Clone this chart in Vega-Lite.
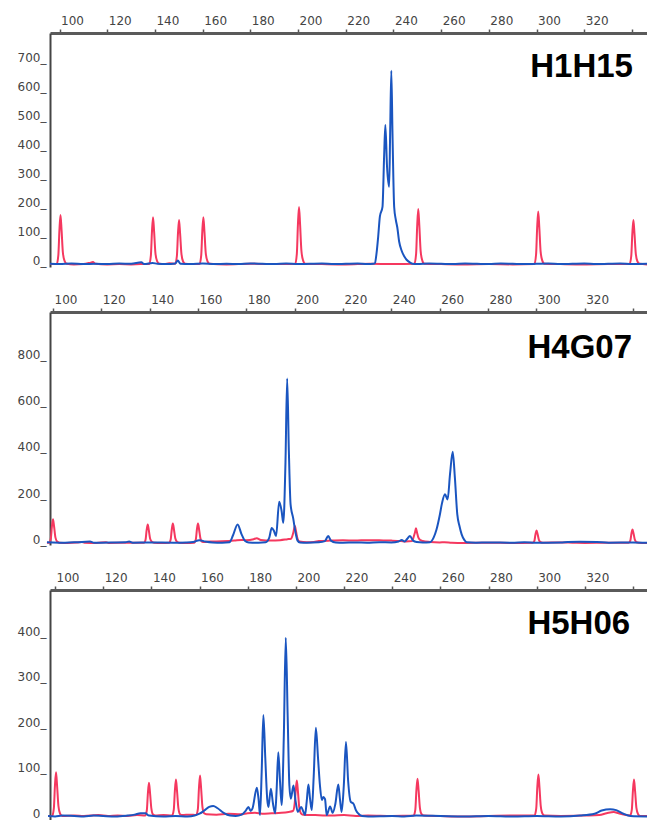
{
"$schema": "https://vega.github.io/schema/vega-lite/v6.json",
"background": "white",
"padding": {"left": 0, "top": 14, "right": 0, "bottom": 0},
"config": {"view": {"stroke": null}, "axis": {"grid": false, "title": null, "labelFont": "DejaVu Sans", "labelColor": "#444", "labelOverlap": false, "labelFlush": false},
  "axisX": {"orient": "top", "values": [100,120,140,160,180,200,220,240,260,280,300,320,340], "labelExpr": "datum.value == 340 ? '' : datum.label", "tickSize": 4, "tickWidth": 1.5, "tickColor": "#555", "domainColor": "#5a5a5a", "domainWidth": 3, "labelAlign": "left", "labelBaseline": "bottom", "labelPadding": 2, "labelFontSize": 12, "labelOffset": 1},
  "axisY": {"labelExpr": "datum.label + '_'", "ticks": false, "labelPadding": 4, "domainColor": "#444", "domainWidth": 2, "labelBaseline": "alphabetic", "labelFontSize": 12, "minExtent": 50, "maxExtent": 50},
  "line": {"strokeWidth": 2, "interpolate": "monotone", "clip": true}},
"columns": 1,
"spacing": 24,
"datasets": {
"p1red": [{"bp":96,"rfu":3},{"bp":98.8,"rfu":3},{"bp":99.5,"rfu":34},{"bp":99.95,"rfu":120},{"bp":100.4,"rfu":172},{"bp":100.85,"rfu":120},{"bp":101.4,"rfu":43},{"bp":102.1,"rfu":14},{"bp":103,"rfu":4},{"bp":106,"rfu":2},{"bp":110,"rfu":3},{"bp":113,"rfu":8},{"bp":114,"rfu":10},{"bp":115,"rfu":4},{"bp":120,"rfu":2},{"bp":125,"rfu":3},{"bp":130,"rfu":2},{"bp":134,"rfu":3},{"bp":137.6,"rfu":3},{"bp":138.3,"rfu":33},{"bp":138.75,"rfu":115},{"bp":139.2,"rfu":165},{"bp":139.65,"rfu":115},{"bp":140.2,"rfu":41},{"bp":140.9,"rfu":13},{"bp":141.8,"rfu":4},{"bp":144,"rfu":3},{"bp":146,"rfu":6},{"bp":148.5,"rfu":4},{"bp":149.2,"rfu":31},{"bp":149.65,"rfu":108},{"bp":150.1,"rfu":155},{"bp":150.55,"rfu":108},{"bp":151.1,"rfu":39},{"bp":151.8,"rfu":12},{"bp":152.7,"rfu":4},{"bp":155,"rfu":3},{"bp":158.7,"rfu":3},{"bp":159.4,"rfu":33},{"bp":159.85,"rfu":115},{"bp":160.3,"rfu":165},{"bp":160.75,"rfu":115},{"bp":161.3,"rfu":41},{"bp":162,"rfu":13},{"bp":162.9,"rfu":4},{"bp":170,"rfu":2},{"bp":180,"rfu":4},{"bp":190,"rfu":3},{"bp":198.8,"rfu":3},{"bp":199.5,"rfu":40},{"bp":199.95,"rfu":140},{"bp":200.4,"rfu":200},{"bp":200.85,"rfu":140},{"bp":201.4,"rfu":50},{"bp":202.1,"rfu":16},{"bp":203,"rfu":4},{"bp":210,"rfu":3},{"bp":220,"rfu":2},{"bp":230,"rfu":4},{"bp":240,"rfu":3},{"bp":248.8,"rfu":4},{"bp":249.5,"rfu":39},{"bp":249.95,"rfu":135},{"bp":250.4,"rfu":193},{"bp":250.85,"rfu":135},{"bp":251.4,"rfu":48},{"bp":252.1,"rfu":15},{"bp":253,"rfu":4},{"bp":260,"rfu":3},{"bp":270,"rfu":2},{"bp":280,"rfu":3},{"bp":290,"rfu":2},{"bp":299.1,"rfu":3},{"bp":299.8,"rfu":37},{"bp":300.25,"rfu":129},{"bp":300.7,"rfu":184},{"bp":301.15,"rfu":129},{"bp":301.7,"rfu":46},{"bp":302.4,"rfu":15},{"bp":303.3,"rfu":4},{"bp":310,"rfu":3},{"bp":320,"rfu":2},{"bp":330,"rfu":3},{"bp":339,"rfu":3},{"bp":339.7,"rfu":31},{"bp":340.15,"rfu":108},{"bp":340.6,"rfu":155},{"bp":341.05,"rfu":108},{"bp":341.6,"rfu":39},{"bp":342.3,"rfu":12},{"bp":343.2,"rfu":4},{"bp":346.4,"rfu":2}],
"p1blue": [{"bp":96,"rfu":4},{"bp":100,"rfu":3},{"bp":105,"rfu":5},{"bp":110,"rfu":3},{"bp":115,"rfu":4},{"bp":120,"rfu":3},{"bp":125,"rfu":5},{"bp":130,"rfu":4},{"bp":134.3,"rfu":9},{"bp":135.5,"rfu":3},{"bp":139,"rfu":7},{"bp":141,"rfu":4},{"bp":145,"rfu":3},{"bp":148.5,"rfu":5},{"bp":149.6,"rfu":15},{"bp":150.7,"rfu":4},{"bp":155,"rfu":3},{"bp":160,"rfu":5},{"bp":165,"rfu":3},{"bp":170,"rfu":4},{"bp":175,"rfu":3},{"bp":180,"rfu":5},{"bp":185,"rfu":4},{"bp":190,"rfu":3},{"bp":195,"rfu":5},{"bp":200,"rfu":3},{"bp":205,"rfu":4},{"bp":210,"rfu":5},{"bp":215,"rfu":3},{"bp":220,"rfu":4},{"bp":225,"rfu":5},{"bp":229,"rfu":3},{"bp":231.5,"rfu":4},{"bp":232.2,"rfu":6},{"bp":232.9,"rfu":40},{"bp":233.6,"rfu":98},{"bp":234.3,"rfu":167},{"bp":235.4,"rfu":200},{"bp":236.1,"rfu":380},{"bp":236.6,"rfu":483},{"bp":237.3,"rfu":340},{"bp":238.2,"rfu":270},{"bp":238.6,"rfu":450},{"bp":239.1,"rfu":670},{"bp":239.6,"rfu":450},{"bp":240.3,"rfu":200},{"bp":241,"rfu":155},{"bp":241.6,"rfu":130},{"bp":242.4,"rfu":80},{"bp":243.4,"rfu":50},{"bp":244.5,"rfu":30},{"bp":245.5,"rfu":18},{"bp":247,"rfu":8},{"bp":248,"rfu":4},{"bp":250,"rfu":3},{"bp":255,"rfu":5},{"bp":260,"rfu":4},{"bp":265,"rfu":3},{"bp":270,"rfu":5},{"bp":275,"rfu":4},{"bp":280,"rfu":3},{"bp":285,"rfu":5},{"bp":290,"rfu":4},{"bp":295,"rfu":3},{"bp":300,"rfu":4},{"bp":305,"rfu":5},{"bp":310,"rfu":3},{"bp":315,"rfu":4},{"bp":320,"rfu":5},{"bp":325,"rfu":3},{"bp":330,"rfu":4},{"bp":335,"rfu":5},{"bp":340,"rfu":3},{"bp":346.4,"rfu":4}],
"p2red": [{"bp":97.5,"rfu":3},{"bp":98.4,"rfu":3},{"bp":99.1,"rfu":21},{"bp":99.55,"rfu":73},{"bp":100,"rfu":104},{"bp":100.45,"rfu":73},{"bp":101,"rfu":26},{"bp":101.7,"rfu":8},{"bp":102.6,"rfu":3},{"bp":106,"rfu":2},{"bp":110,"rfu":4},{"bp":112,"rfu":6},{"bp":113,"rfu":3},{"bp":118,"rfu":2},{"bp":122,"rfu":5},{"bp":123,"rfu":2},{"bp":130,"rfu":3},{"bp":137.6,"rfu":3},{"bp":138.3,"rfu":16},{"bp":138.75,"rfu":57},{"bp":139.2,"rfu":82},{"bp":139.65,"rfu":57},{"bp":140.2,"rfu":20},{"bp":140.9,"rfu":7},{"bp":141.8,"rfu":3},{"bp":145,"rfu":2},{"bp":148,"rfu":3},{"bp":148.7,"rfu":17},{"bp":149.15,"rfu":60},{"bp":149.6,"rfu":86},{"bp":150.05,"rfu":60},{"bp":150.6,"rfu":22},{"bp":151.3,"rfu":7},{"bp":152.2,"rfu":3},{"bp":155,"rfu":2},{"bp":158.4,"rfu":3},{"bp":159.1,"rfu":17},{"bp":159.55,"rfu":60},{"bp":160,"rfu":86},{"bp":160.45,"rfu":60},{"bp":161,"rfu":22},{"bp":161.7,"rfu":7},{"bp":162.6,"rfu":6},{"bp":165,"rfu":8},{"bp":170,"rfu":9},{"bp":175,"rfu":12},{"bp":178,"rfu":15},{"bp":180,"rfu":14},{"bp":183,"rfu":18},{"bp":184.3,"rfu":22},{"bp":186,"rfu":15},{"bp":190,"rfu":12},{"bp":194,"rfu":14},{"bp":197,"rfu":18},{"bp":198.5,"rfu":20},{"bp":199.4,"rfu":45},{"bp":200.1,"rfu":75},{"bp":200.6,"rfu":50},{"bp":201.2,"rfu":20},{"bp":202,"rfu":8},{"bp":205,"rfu":5},{"bp":208,"rfu":6},{"bp":210,"rfu":10},{"bp":215,"rfu":12},{"bp":220,"rfu":13},{"bp":225,"rfu":12},{"bp":230,"rfu":14},{"bp":235,"rfu":13},{"bp":240,"rfu":12},{"bp":244,"rfu":10},{"bp":246,"rfu":8},{"bp":248.6,"rfu":10},{"bp":249.3,"rfu":30},{"bp":249.75,"rfu":46},{"bp":250.2,"rfu":65},{"bp":250.65,"rfu":46},{"bp":251.2,"rfu":25},{"bp":252,"rfu":14},{"bp":253,"rfu":10},{"bp":256,"rfu":6},{"bp":260,"rfu":4},{"bp":262,"rfu":5},{"bp":265,"rfu":3},{"bp":270,"rfu":2},{"bp":280,"rfu":3},{"bp":290,"rfu":2},{"bp":298.5,"rfu":3},{"bp":299.2,"rfu":11},{"bp":299.65,"rfu":39},{"bp":300.1,"rfu":56},{"bp":300.55,"rfu":39},{"bp":301.1,"rfu":14},{"bp":301.8,"rfu":5},{"bp":302.7,"rfu":3},{"bp":310,"rfu":4},{"bp":315,"rfu":3},{"bp":320,"rfu":2},{"bp":330,"rfu":3},{"bp":338.2,"rfu":3},{"bp":338.9,"rfu":12},{"bp":339.35,"rfu":42},{"bp":339.8,"rfu":60},{"bp":340.25,"rfu":42},{"bp":340.8,"rfu":15},{"bp":341.5,"rfu":5},{"bp":342.4,"rfu":3},{"bp":345.8,"rfu":2}],
"p2blue": [{"bp":97.5,"rfu":5},{"bp":100,"rfu":4},{"bp":105,"rfu":3},{"bp":110,"rfu":5},{"bp":115.3,"rfu":8},{"bp":117,"rfu":3},{"bp":125,"rfu":4},{"bp":130,"rfu":5},{"bp":131.5,"rfu":8},{"bp":133,"rfu":3},{"bp":140,"rfu":4},{"bp":150,"rfu":3},{"bp":155,"rfu":4},{"bp":158,"rfu":6},{"bp":160.5,"rfu":14},{"bp":163,"rfu":8},{"bp":166,"rfu":4},{"bp":170,"rfu":3},{"bp":173,"rfu":5},{"bp":174.5,"rfu":35},{"bp":176.4,"rfu":82},{"bp":178,"rfu":40},{"bp":179.5,"rfu":10},{"bp":181,"rfu":4},{"bp":185,"rfu":3},{"bp":188,"rfu":5},{"bp":189.5,"rfu":25},{"bp":190.5,"rfu":67},{"bp":191.4,"rfu":55},{"bp":192.3,"rfu":32},{"bp":193.6,"rfu":180},{"bp":194.6,"rfu":140},{"bp":195.3,"rfu":89},{"bp":196.2,"rfu":350},{"bp":196.9,"rfu":713},{"bp":197.6,"rfu":400},{"bp":198.3,"rfu":170},{"bp":199.4,"rfu":108},{"bp":200.3,"rfu":50},{"bp":201.2,"rfu":12},{"bp":202.2,"rfu":4},{"bp":205,"rfu":3},{"bp":210,"rfu":5},{"bp":212.5,"rfu":10},{"bp":213.9,"rfu":32},{"bp":215,"rfu":12},{"bp":217,"rfu":4},{"bp":220,"rfu":3},{"bp":225,"rfu":4},{"bp":230,"rfu":3},{"bp":235,"rfu":5},{"bp":240,"rfu":4},{"bp":243,"rfu":8},{"bp":244.3,"rfu":15},{"bp":245.5,"rfu":8},{"bp":246.6,"rfu":20},{"bp":247.7,"rfu":32},{"bp":249,"rfu":12},{"bp":250.5,"rfu":6},{"bp":253,"rfu":4},{"bp":256,"rfu":5},{"bp":257.5,"rfu":25},{"bp":258.7,"rfu":60},{"bp":260.1,"rfu":125},{"bp":261,"rfu":175},{"bp":262.2,"rfu":212},{"bp":263.3,"rfu":190},{"bp":264.3,"rfu":300},{"bp":265.4,"rfu":396},{"bp":266.3,"rfu":284},{"bp":267.3,"rfu":125},{"bp":268.2,"rfu":75},{"bp":269.1,"rfu":39},{"bp":270.2,"rfu":15},{"bp":271.2,"rfu":5},{"bp":275,"rfu":3},{"bp":280,"rfu":4},{"bp":290,"rfu":3},{"bp":295,"rfu":5},{"bp":300,"rfu":3},{"bp":310,"rfu":4},{"bp":313,"rfu":6},{"bp":318,"rfu":7},{"bp":325,"rfu":6},{"bp":330,"rfu":3},{"bp":340,"rfu":4},{"bp":345.8,"rfu":3}],
"p3red": [{"bp":97.1,"rfu":3},{"bp":98.8,"rfu":3},{"bp":99.5,"rfu":20},{"bp":99.95,"rfu":69},{"bp":100.4,"rfu":99},{"bp":100.85,"rfu":69},{"bp":101.4,"rfu":25},{"bp":102.1,"rfu":8},{"bp":103,"rfu":3},{"bp":108,"rfu":4},{"bp":112,"rfu":3},{"bp":118,"rfu":5},{"bp":122,"rfu":3},{"bp":126,"rfu":4},{"bp":130,"rfu":3},{"bp":134,"rfu":5},{"bp":137.4,"rfu":4},{"bp":138.1,"rfu":15},{"bp":138.55,"rfu":53},{"bp":139,"rfu":76},{"bp":139.45,"rfu":53},{"bp":140,"rfu":19},{"bp":140.7,"rfu":6},{"bp":141.6,"rfu":4},{"bp":145,"rfu":5},{"bp":148.6,"rfu":4},{"bp":149.3,"rfu":17},{"bp":149.75,"rfu":58},{"bp":150.2,"rfu":83},{"bp":150.65,"rfu":58},{"bp":151.2,"rfu":21},{"bp":151.9,"rfu":7},{"bp":152.8,"rfu":5},{"bp":156,"rfu":6},{"bp":158.6,"rfu":5},{"bp":159.3,"rfu":18},{"bp":159.75,"rfu":64},{"bp":160.2,"rfu":92},{"bp":160.65,"rfu":64},{"bp":161.2,"rfu":23},{"bp":161.9,"rfu":9},{"bp":162.8,"rfu":7},{"bp":167,"rfu":6},{"bp":172,"rfu":8},{"bp":177,"rfu":7},{"bp":180,"rfu":9},{"bp":183,"rfu":10},{"bp":186,"rfu":8},{"bp":190,"rfu":9},{"bp":194,"rfu":10},{"bp":197,"rfu":12},{"bp":198.8,"rfu":14},{"bp":199.5,"rfu":30},{"bp":199.95,"rfu":60},{"bp":200.4,"rfu":81},{"bp":200.85,"rfu":57},{"bp":201.4,"rfu":22},{"bp":202.1,"rfu":9},{"bp":203,"rfu":6},{"bp":208,"rfu":5},{"bp":215,"rfu":4},{"bp":220,"rfu":5},{"bp":225,"rfu":3},{"bp":230,"rfu":4},{"bp":240,"rfu":3},{"bp":248.9,"rfu":4},{"bp":249.6,"rfu":17},{"bp":250.05,"rfu":60},{"bp":250.5,"rfu":85},{"bp":250.95,"rfu":60},{"bp":251.5,"rfu":21},{"bp":252.2,"rfu":7},{"bp":253.1,"rfu":4},{"bp":260,"rfu":3},{"bp":270,"rfu":2},{"bp":280,"rfu":3},{"bp":290,"rfu":4},{"bp":299.1,"rfu":4},{"bp":299.8,"rfu":19},{"bp":300.25,"rfu":66},{"bp":300.7,"rfu":94},{"bp":301.15,"rfu":66},{"bp":301.7,"rfu":24},{"bp":302.4,"rfu":8},{"bp":303.3,"rfu":4},{"bp":310,"rfu":3},{"bp":320,"rfu":4},{"bp":326,"rfu":5},{"bp":329,"rfu":9},{"bp":332,"rfu":12},{"bp":334,"rfu":9},{"bp":337,"rfu":5},{"bp":338.8,"rfu":4},{"bp":339.5,"rfu":17},{"bp":339.95,"rfu":58},{"bp":340.4,"rfu":83},{"bp":340.85,"rfu":58},{"bp":341.4,"rfu":21},{"bp":342.1,"rfu":7},{"bp":343,"rfu":3},{"bp":345.9,"rfu":3}],
"p3blue": [{"bp":97.1,"rfu":3},{"bp":100,"rfu":2},{"bp":103,"rfu":4},{"bp":108,"rfu":3},{"bp":112,"rfu":2},{"bp":116,"rfu":4},{"bp":120,"rfu":3},{"bp":125,"rfu":2},{"bp":130,"rfu":4},{"bp":133,"rfu":6},{"bp":135.5,"rfu":9},{"bp":137.5,"rfu":9},{"bp":139,"rfu":4},{"bp":145,"rfu":2},{"bp":150,"rfu":3},{"bp":155,"rfu":2},{"bp":158,"rfu":4},{"bp":160,"rfu":8},{"bp":162,"rfu":15},{"bp":164,"rfu":23},{"bp":165.7,"rfu":25},{"bp":167.5,"rfu":20},{"bp":170,"rfu":10},{"bp":172.7,"rfu":4},{"bp":175,"rfu":3},{"bp":177.5,"rfu":6},{"bp":179.2,"rfu":15},{"bp":180.3,"rfu":23},{"bp":181.2,"rfu":14},{"bp":182,"rfu":20},{"bp":183.8,"rfu":65},{"bp":184.5,"rfu":40},{"bp":185.1,"rfu":5},{"bp":185.8,"rfu":100},{"bp":186.5,"rfu":225},{"bp":187.3,"rfu":130},{"bp":188.1,"rfu":40},{"bp":188.6,"rfu":23},{"bp":189.6,"rfu":63},{"bp":190.5,"rfu":30},{"bp":191.4,"rfu":9},{"bp":192,"rfu":60},{"bp":192.7,"rfu":143},{"bp":193.4,"rfu":80},{"bp":194.1,"rfu":27},{"bp":195,"rfu":180},{"bp":195.8,"rfu":395},{"bp":196.6,"rfu":220},{"bp":197.3,"rfu":70},{"bp":197.9,"rfu":41},{"bp":199,"rfu":70},{"bp":199.9,"rfu":35},{"bp":200.8,"rfu":12},{"bp":202.2,"rfu":23},{"bp":203,"rfu":14},{"bp":203.8,"rfu":5},{"bp":204.5,"rfu":35},{"bp":205.2,"rfu":72},{"bp":205.9,"rfu":40},{"bp":206.6,"rfu":16},{"bp":207.4,"rfu":90},{"bp":208.3,"rfu":197},{"bp":209.2,"rfu":130},{"bp":210,"rfu":70},{"bp":210.8,"rfu":38},{"bp":211.4,"rfu":45},{"bp":212.1,"rfu":40},{"bp":212.8,"rfu":5},{"bp":214.2,"rfu":24},{"bp":215.3,"rfu":10},{"bp":216.4,"rfu":30},{"bp":217.6,"rfu":72},{"bp":218.3,"rfu":40},{"bp":219,"rfu":12},{"bp":219.9,"rfu":70},{"bp":220.8,"rfu":166},{"bp":221.7,"rfu":80},{"bp":222.8,"rfu":34},{"bp":223.9,"rfu":30},{"bp":225,"rfu":15},{"bp":226,"rfu":8},{"bp":227.5,"rfu":3},{"bp":230,"rfu":2},{"bp":240,"rfu":3},{"bp":245,"rfu":2},{"bp":250,"rfu":4},{"bp":260,"rfu":3},{"bp":270,"rfu":2},{"bp":280,"rfu":3},{"bp":290,"rfu":2},{"bp":300,"rfu":3},{"bp":310,"rfu":2},{"bp":318,"rfu":4},{"bp":324,"rfu":8},{"bp":327,"rfu":15},{"bp":330.5,"rfu":18},{"bp":333,"rfu":16},{"bp":336,"rfu":8},{"bp":339,"rfu":3},{"bp":345.9,"rfu":2}]
},
"concat": [
{
 "width": 597, "height": 234,
 "layer": [
  {"data": {"name": "p1red"}, "mark": {"type": "line", "color": "#f5385f"},
   "encoding": {"x": {"field": "bp", "type": "quantitative", "scale": {"domain": [96.0, 346.3], "nice": false, "zero": false}},
     "y": {"field": "rfu", "type": "quantitative", "scale": {"domain": [-7, 800], "nice": false, "zero": false}, "axis": {"values": [0,100,200,300,400,500,600,700]}}}},
  {"data": {"name": "p1blue"}, "mark": {"type": "line", "color": "#1a55c0"},
   "encoding": {"x": {"field": "bp", "type": "quantitative"},
     "y": {"field": "rfu", "type": "quantitative", "axis": {"values": [0,100,200,300,400,500,600,700]}}}},
  {"data": {"values": [{"marker": "H1H15"}]},
   "mark": {"type": "text", "align": "right", "baseline": "alphabetic", "font": "Liberation Sans", "fontSize": 33, "fontWeight": "bold", "color": "#000"},
   "encoding": {"x": {"datum": 340.4, "type": "quantitative"}, "y": {"datum": 648, "type": "quantitative", "axis": {"values": [0,100,200,300,400,500,600,700]}}, "text": {"field": "marker"}}}
 ]
},
{
 "width": 597, "height": 233,
 "layer": [
  {"data": {"name": "p2red"}, "mark": {"type": "line", "color": "#f5385f"},
   "encoding": {"x": {"field": "bp", "type": "quantitative", "scale": {"domain": [98.76, 345.8], "nice": false, "zero": false}},
     "y": {"field": "rfu", "type": "quantitative", "scale": {"domain": [-7, 1000], "nice": false, "zero": false}, "axis": {"values": [0,200,400,600,800]}}}},
  {"data": {"name": "p2blue"}, "mark": {"type": "line", "color": "#1a55c0"},
   "encoding": {"x": {"field": "bp", "type": "quantitative"},
     "y": {"field": "rfu", "type": "quantitative", "axis": {"values": [0,200,400,600,800]}}}},
  {"data": {"values": [{"marker": "H4G07"}]},
   "mark": {"type": "text", "align": "right", "baseline": "alphabetic", "font": "Liberation Sans", "fontSize": 33, "fontWeight": "bold", "color": "#000"},
   "encoding": {"x": {"datum": 339.6, "type": "quantitative"}, "y": {"datum": 801, "type": "quantitative", "axis": {"values": [0,200,400,600,800]}}, "text": {"field": "marker"}}}
 ]
},
{
 "width": 597, "height": 231,
 "layer": [
  {"data": {"name": "p3red"}, "mark": {"type": "line", "color": "#f5385f"},
   "encoding": {"x": {"field": "bp", "type": "quantitative", "scale": {"domain": [97.9, 345.8], "nice": false, "zero": false}},
     "y": {"field": "rfu", "type": "quantitative", "scale": {"domain": [-8, 500], "nice": false, "zero": false}, "axis": {"values": [0,100,200,300,400]}}}},
  {"data": {"name": "p3blue"}, "mark": {"type": "line", "color": "#1a55c0"},
   "encoding": {"x": {"field": "bp", "type": "quantitative"},
     "y": {"field": "rfu", "type": "quantitative", "axis": {"values": [0,100,200,300,400]}}}},
  {"data": {"values": [{"marker": "H5H06"}]},
   "mark": {"type": "text", "align": "right", "baseline": "alphabetic", "font": "Liberation Sans", "fontSize": 33, "fontWeight": "bold", "color": "#000"},
   "encoding": {"x": {"datum": 338.8, "type": "quantitative"}, "y": {"datum": 403, "type": "quantitative", "axis": {"values": [0,100,200,300,400]}}, "text": {"field": "marker"}}}
 ]
}
]
}
